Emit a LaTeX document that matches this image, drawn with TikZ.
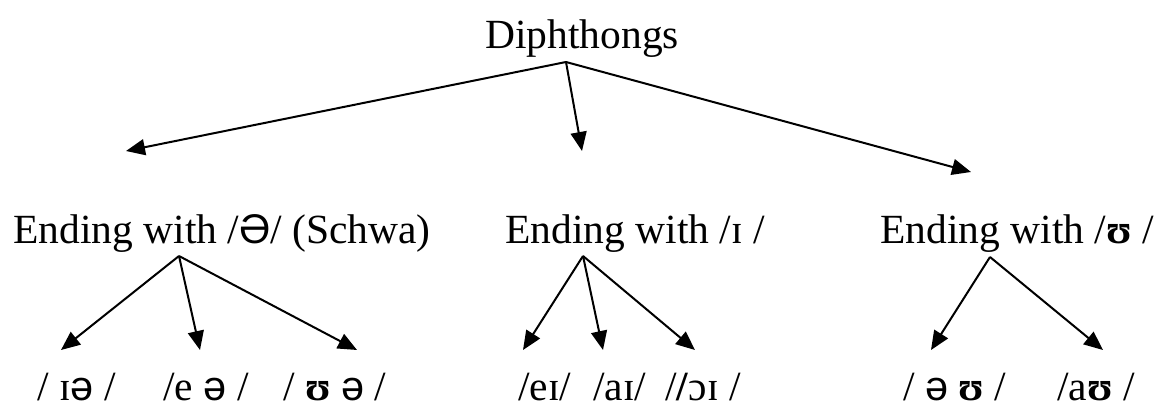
\documentclass[tikz,border=0pt]{standalone}
\usepackage{fontspec}
\setmainfont{Liberation Serif}
\newfontfamily\ipasans{Liberation Sans}
\usetikzlibrary{arrows.meta}

\newcommand{\schwa}{{\ipasans ə}}
\newcommand{\upsl}{\textbf{ʊ}}

\begin{document}
\begin{tikzpicture}[x=0.5pt, y=-0.5pt, >={Triangle[length=9.5pt, width=8pt]},
    lbl/.style={inner sep=0pt, anchor=base west, font=\fontsize{20.75pt}{24pt}\selectfont},
    arr/.style={->, line width=1pt}]

\useasboundingbox (0,0) rectangle (1168,407);

% -----------------------------------------------------
%  TOP
% -----------------------------------------------------
\node[lbl] (dip) at (485,48) {Diphthongs};
\coordinate (dipfoot) at (566,62);

% -----------------------------------------------------
%  SECOND LEVEL
% -----------------------------------------------------
\node[lbl] (endschwa) at (13,243) {Ending with /{\ipasans Ə}/ (Schwa)};
\node[lbl] (endi)     at (505,243) {Ending with /ɪ /};
\node[lbl] (endu)     at (880,243) {Ending with /\upsl\ /};

\coordinate (tipschwa) at (126,151);
\coordinate (tipi)     at (582,151);
\coordinate (tipu)     at (971,172);

\draw[arr] (dipfoot) -- (tipschwa);
\draw[arr] (dipfoot) -- (tipi);
\draw[arr] (dipfoot) -- (tipu);

\coordinate (footschwa) at (179,256);
\coordinate (footi)     at (583,256);
\coordinate (footu)     at (990,257);

% -----------------------------------------------------
%  BOTTOM
% -----------------------------------------------------
\node[lbl] (ia) at (37,400)   {/ ɪ\schwa\ /};
\node[lbl] (ea) at (163,400)  {/e \schwa\ /};
\node[lbl] (ua) at (283,400)  {/ \upsl\ \schwa\ /};

\node[lbl] (ei) at (518,400)  {/eɪ/};
\node[lbl] (ai) at (593,400)  {/aɪ/};
\node[lbl] (oi) at (665,400)  {/\textbf{/}ɔɪ /};

\node[lbl] (ou) at (903,400)  {/ \schwa\ \upsl\ /};
\node[lbl] (au) at (1057,400) {/a\upsl\ /};

% arrow tips above the sounds
\coordinate (tipia) at (61,350);
\coordinate (tipea) at (200,350);
\coordinate (tipua) at (357,350);
\coordinate (tipei) at (523,350);
\coordinate (tipai) at (603,350);
\coordinate (tipoi) at (695,350);
\coordinate (tipou) at (931,350);
\coordinate (tipau) at (1103,350);

\foreach \t in {ia,ea,ua}{
  \draw[arr] (footschwa) -- (tip\t);
}
\foreach \t in {ei,ai,oi}{
  \draw[arr] (footi) -- (tip\t);
}
\foreach \t in {ou,au}{
  \draw[arr] (footu) -- (tip\t);
}

\end{tikzpicture}
\end{document}
